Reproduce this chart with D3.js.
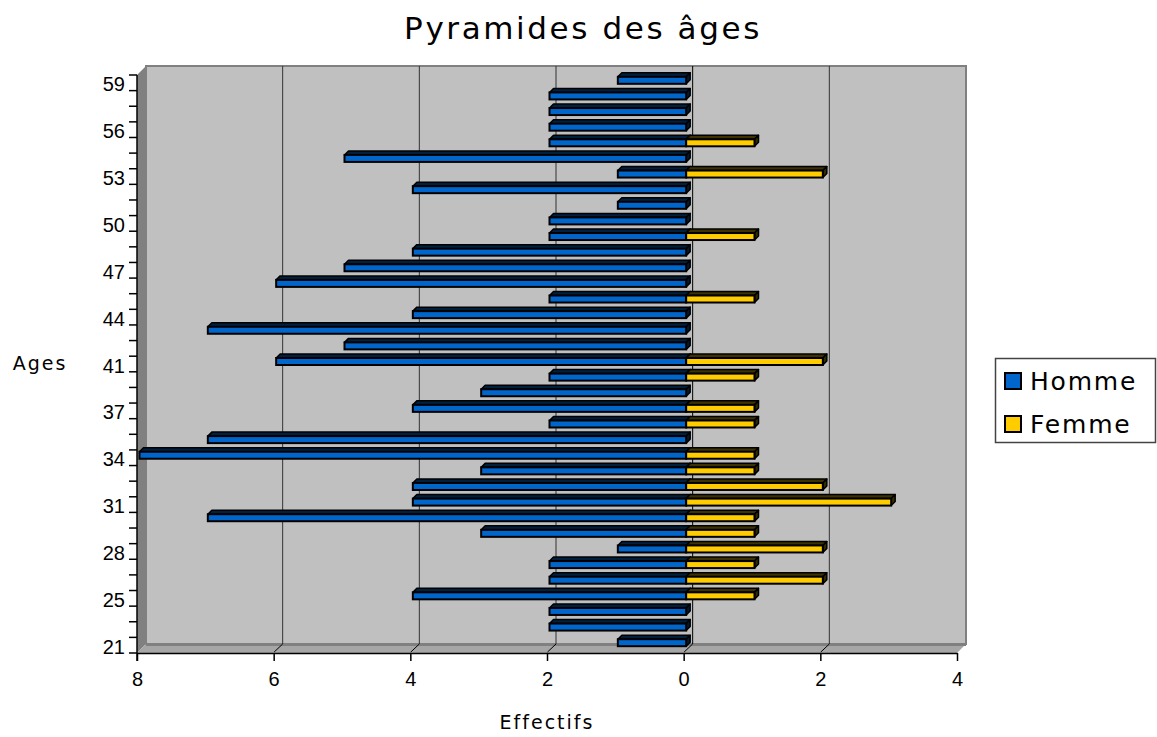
<!DOCTYPE html>
<html><head><meta charset="utf-8">
<script src="https://cdn.jsdelivr.net/npm/d3@7/dist/d3.min.js"></script>
<style>
html,body{margin:0;padding:0;background:#fff;}
svg{display:block;}
</style></head>
<body>
<svg id="chart" width="1157" height="737"></svg>
<script>
// ---- data ----
const ages = [21,22,23,25,26,27,28,29,30,31,32,33,34,35,36,37,38,39,41,42,43,44,45,46,47,48,49,50,51,52,53,54,55,56,57,58,59];
const homme = [1,2,2,4,2,2,1,3,7,4,4,3,8,7,2,4,3,2,6,5,7,4,2,6,5,4,2,2,1,4,1,5,2,2,2,2,1];
const femme = [0,0,0,1,2,1,2,1,1,3,2,1,1,0,1,1,0,1,2,0,0,0,1,0,0,0,1,0,0,0,2,0,1,0,0,0,0];
const xTicks = [-8,-6,-4,-2,0,2,4];
const seriesNames = ["Homme","Femme"];
const seriesColors = ["#0066cc","#ffcc00"];
const topColors = ["#00203f","#3d3200"];
const sideColors = ["#001a33","#332a00"];

const svg = d3.select("#chart");
const fx0 = 137, fx1 = 957, fyTop = 75, fyBot = 653;
const DX = 9, DY = -9;       // wall depth
const BO = 2.5;              // bar front offset
const BD = 4;                // bar depth

const x = d3.scaleLinear().domain([-8,4]).range([fx0,fx1]);
const y = d3.scaleBand().domain(ages).range([fyBot,fyTop]).padding(0);

// back wall
svg.append("rect").attr("x",fx0+DX).attr("y",fyTop+DY).attr("width",fx1-fx0).attr("height",fyBot-fyTop)
  .attr("fill","#c0c0c0").attr("stroke","#808080").attr("stroke-width",2);
// left wall
svg.append("path").attr("d",`M${fx0},${fyTop}L${fx0+DX},${fyTop+DY}L${fx0+DX},${fyBot+DY}L${fx0},${fyBot}Z`)
  .attr("fill","#808080");
// floor
svg.append("path").attr("d",`M${fx0},${fyBot}L${fx0+DX},${fyBot+DY}L${fx1+DX},${fyBot+DY}L${fx1},${fyBot}Z`)
  .attr("fill","#a6a6a6");
svg.append("line").attr("x1",fx0+DX).attr("x2",fx1+DX).attr("y1",fyBot+DY+1).attr("y2",fyBot+DY+1)
  .attr("stroke","#808080").attr("stroke-width",2);

// gridlines on back wall
svg.append("g").selectAll("line").data(xTicks.filter(d=>d>-8 && d<4)).join("line")
  .attr("x1",d=>x(d)+DX).attr("x2",d=>x(d)+DX).attr("y1",fyTop+DY).attr("y2",fyBot+DY)
  .attr("stroke",d=>d===0?"#000":"#333").attr("stroke-width",1);
// floor diagonal ticks
svg.append("g").selectAll("line").data(xTicks.filter(d=>d>-8 && d<4)).join("line")
  .attr("x1",d=>x(d)+0.5).attr("x2",d=>x(d)+DX).attr("y1",fyBot-1).attr("y2",fyBot+DY)
  .attr("stroke","#000").attr("stroke-width",1);

// bars
function drawBar(g, v0, v1, cy, si){
  const xa = x(v0)+BO, xb = x(v1)+BO;
  const h = 7, t = cy - h/2, b = cy + h/2;
  g.append("path").attr("d",`M${xa},${t}L${xa+BD},${t-BD}L${xb+BD},${t-BD}L${xb},${t}Z`)
    .attr("fill",topColors[si]).attr("stroke","#000").attr("stroke-width",1.5).attr("stroke-linejoin","round");
  g.append("path").attr("d",`M${xb},${t}L${xb+BD},${t-BD}L${xb+BD},${b-BD}L${xb},${b}Z`)
    .attr("fill",sideColors[si]).attr("stroke","#000").attr("stroke-width",1.5).attr("stroke-linejoin","round");
  g.append("rect").attr("x",xa).attr("y",t).attr("width",Math.max(0,xb-xa)).attr("height",h)
    .attr("fill",seriesColors[si]).attr("stroke","#000").attr("stroke-width",2);
}
const barsG = svg.append("g");
const order = d3.range(ages.length).reverse();
order.forEach(i=>{
  const cy = y(ages[i]) + y.bandwidth()/2 - BO;
  const g = barsG.append("g");
  if (homme[i]>0) drawBar(g, -homme[i], 0, cy, 0);
  if (femme[i]>0) drawBar(g, 0, femme[i], cy, 1);
});

// x axis
const xAxis = d3.axisBottom(x).tickValues(xTicks).tickFormat(d=>Math.abs(d)).tickSize(8).tickSizeOuter(0).tickPadding(11);
const gx = svg.append("g").attr("transform",`translate(0,${fyBot})`).call(xAxis);
gx.select(".domain").attr("stroke","#000").attr("stroke-width",1.5);
gx.selectAll(".tick line").attr("stroke","#000").attr("stroke-width",1.5);
gx.selectAll(".tick text").attr("font-family","Liberation Sans, Arial, sans-serif").attr("font-size",20).attr("fill","#000");

// y axis
const gy = svg.append("g");
gy.append("line").attr("x1",fx0).attr("x2",fx0).attr("y1",fyTop).attr("y2",fyBot+8).attr("stroke","#000").attr("stroke-width",1.5);
const bounds = ages.map(a=>y(a)).concat([fyBot]);
gy.selectAll("line.tk").data(bounds).join("line").attr("class","tk")
  .attr("x1",fx0-8).attr("x2",fx0).attr("y1",d=>d).attr("y2",d=>d).attr("stroke","#000").attr("stroke-width",1.5);
gy.selectAll("text").data(ages.filter((a,i)=>i%3===0)).join("text")
  .attr("x",fx0-12).attr("y",d=>y(d)+y.bandwidth()/2+1.5).attr("text-anchor","end").attr("dominant-baseline","central")
  .attr("font-family","Liberation Sans, Arial, sans-serif").attr("font-size",20).text(d=>d);

// titles
svg.append("text").attr("x",583).attr("y",39).attr("text-anchor","middle")
  .attr("font-family","DejaVu Sans, sans-serif").attr("font-size",31).attr("letter-spacing",2.6).text("Pyramides des âges");
svg.append("text").attr("x",40).attr("y",370).attr("text-anchor","middle")
  .attr("font-family","DejaVu Sans, sans-serif").attr("font-size",19).attr("letter-spacing",2).text("Ages");
svg.append("text").attr("x",547).attr("y",729).attr("text-anchor","middle")
  .attr("font-family","DejaVu Sans, sans-serif").attr("font-size",19).attr("letter-spacing",2).text("Effectifs");

// legend
const lg = svg.append("g");
lg.append("rect").attr("x",995.5).attr("y",358.5).attr("width",160).attr("height",84).attr("fill","#fff").attr("stroke","#444").attr("stroke-width",1.5);
seriesNames.forEach((n,i)=>{
  const yy = 381 + i*43;
  lg.append("rect").attr("x",1005).attr("y",yy-8).attr("width",16).attr("height",16)
    .attr("fill",seriesColors[i]).attr("stroke","#000").attr("stroke-width",2);
  lg.append("text").attr("x",1030).attr("y",yy).attr("dominant-baseline","central")
    .attr("font-family","DejaVu Sans, sans-serif").attr("font-size",25).attr("letter-spacing",1.8).text(n);
});
</script>
</body></html>
